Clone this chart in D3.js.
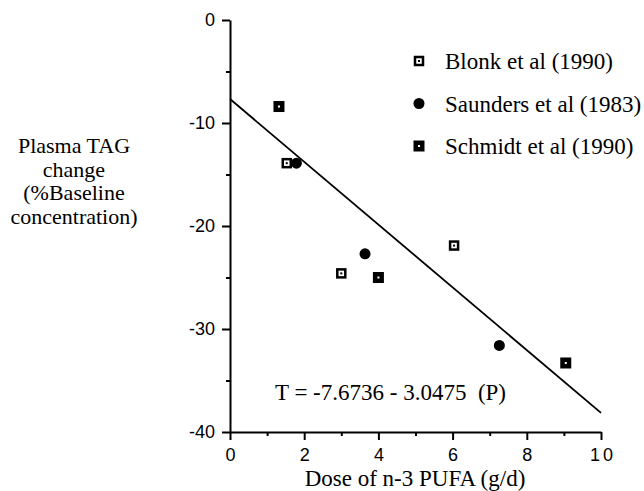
<!DOCTYPE html>
<html>
<head>
<meta charset="utf-8">
<script src="https://cdn.jsdelivr.net/npm/d3@7"></script>
<style>
  body { margin: 0; background: #fff; }
  svg { display: block; }
  .tick text { font-family: "Liberation Sans", Arial, sans-serif; font-size: 18px; fill: #000; }
  .serif { font-family: "Liberation Serif", "Times New Roman", serif; fill: #000; font-size: 23px; }
</style>
</head>
<body>
<svg width="644" height="491"></svg>
<script>
// Plasma TAG change vs dose of n-3 PUFA

var blonk = [
  {x: 1.53, y: -13.9},
  {x: 3.0, y: -24.6},
  {x: 6.04, y: -21.9}
];
var saunders = [
  {x: 1.79, y: -13.9},
  {x: 3.64, y: -22.7},
  {x: 7.26, y: -31.6}
];
var schmidt = [
  {x: 1.32, y: -8.4},
  {x: 4.0, y: -25.0},
  {x: 9.05, y: -33.3}
];
var seriesNames = ["Blonk et al (1990)", "Saunders et al (1983)", "Schmidt et al (1990)"];
var xTicks = [0, 2, 4, 6, 8, 10];
var yTicks = [-40, -30, -20, -10, 0];
var intercept = -7.6736,
    slope = -3.0475;

var svg = d3.select("svg");

var xScale = d3.scaleLinear().domain([0, 10]).range([230, 601]);
var yScale = d3.scaleLinear().domain([-40, 0]).range([432, 20]);

function plain(d) { return String(d); }

// minor ticks
svg.append("g")
  .attr("transform", "translate(0," + yScale(-40) + ")")
  .call(d3.axisBottom(xScale).tickValues(d3.range(1, 10, 2)).tickSize(4).tickFormat(""))
  .call(function(g) { g.select(".domain").remove(); g.selectAll("line").attr("stroke-width", 2); });

svg.append("g")
  .attr("transform", "translate(" + xScale(0) + ",0)")
  .call(d3.axisLeft(yScale).tickValues([-35, -25, -15, -5]).tickSize(4).tickFormat(""))
  .call(function(g) { g.select(".domain").remove(); g.selectAll("line").attr("stroke-width", 2); });

// x-axis
svg.append("g")
  .attr("transform", "translate(0," + yScale(-40) + ")")
  .call(d3.axisBottom(xScale).tickValues(xTicks).tickSize(8).tickSizeOuter(0).tickPadding(8).tickFormat(plain))
  .call(function(g) {
    g.select(".domain").attr("stroke-width", 2);
    g.selectAll("line").attr("stroke-width", 2);
    g.selectAll("text").attr("letter-spacing", function(d) { return d == 10 ? "3px" : null; })
      .attr("dx", function(d) { return d == 10 ? "1.5px" : null; });
  });

// y-axis
svg.append("g")
  .attr("transform", "translate(" + xScale(0) + ",0)")
  .call(d3.axisLeft(yScale).tickValues(yTicks).tickSize(8).tickSizeOuter(0).tickPadding(7).tickFormat(plain))
  .call(function(g) {
    g.select(".domain").attr("stroke-width", 2);
    g.selectAll("line").attr("stroke-width", 2);
  });

// regression line
svg.append("line")
  .attr("x1", xScale(0)).attr("y1", yScale(intercept))
  .attr("x2", xScale(10)).attr("y2", yScale(intercept + slope * 10))
  .attr("stroke", "#000")
  .attr("stroke-width", 1.8);

// markers
function openSquare(g) {
  g.append("rect").attr("x", -4).attr("y", -4).attr("width", 8).attr("height", 8)
    .attr("fill", "#fff").attr("stroke", "#000").attr("stroke-width", 2.5);
  g.append("rect").attr("x", -1).attr("y", -1).attr("width", 2).attr("height", 2).attr("fill", "#000");
}
function filledSquare(g) {
  g.append("rect").attr("x", -5.5).attr("y", -5.5).attr("width", 11).attr("height", 11).attr("fill", "#000");
  g.append("rect").attr("x", -1).attr("y", -1).attr("width", 2).attr("height", 2).attr("fill", "#fff");
}
function dot(g) {
  g.append("circle").attr("r", 5.5).attr("fill", "#000");
}
var drawers = [openSquare, dot, filledSquare];

[blonk, saunders, schmidt].forEach(function(data, i) {
  svg.append("g")
    .selectAll("g")
    .data(data)
    .enter()
    .append("g")
    .attr("transform", function(d) { return "translate(" + xScale(d.x) + "," + yScale(d.y) + ")"; })
    .each(function() { drawers[i](d3.select(this)); });
});

// legend
var legend = svg.append("g").attr("transform", "translate(419,61)");
seriesNames.forEach(function(name, i) {
  var row = legend.append("g").attr("transform", "translate(0," + (i * 42.5) + ")");
  drawers[i](row);
  row.append("text").attr("class", "serif")
    .attr("x", 26).attr("y", 8)
    .text(name);
});

// equation
svg.append("text").attr("class", "serif")
  .attr("x", 275).attr("y", 400)
  .style("white-space", "pre")
  .text("T = -7.6736 - 3.0475  (P)");

// x-axis title
svg.append("text").attr("class", "serif")
  .attr("x", 415).attr("y", 486)
  .attr("text-anchor", "middle")
  .text("Dose of n-3 PUFA (g/d)");

// y-axis title
var yTitle = ["Plasma TAG", "change", "(%Baseline", "concentration)"];
svg.append("text").attr("class", "serif")
  .attr("text-anchor", "middle")
  .style("font-size", "22px")
  .selectAll("tspan")
  .data(yTitle)
  .enter()
  .append("tspan")
  .attr("x", 74)
  .attr("y", function(d, i) { return 153 + i * 23.5; })
  .text(function(d) { return d; });
</script>
</body>
</html>
